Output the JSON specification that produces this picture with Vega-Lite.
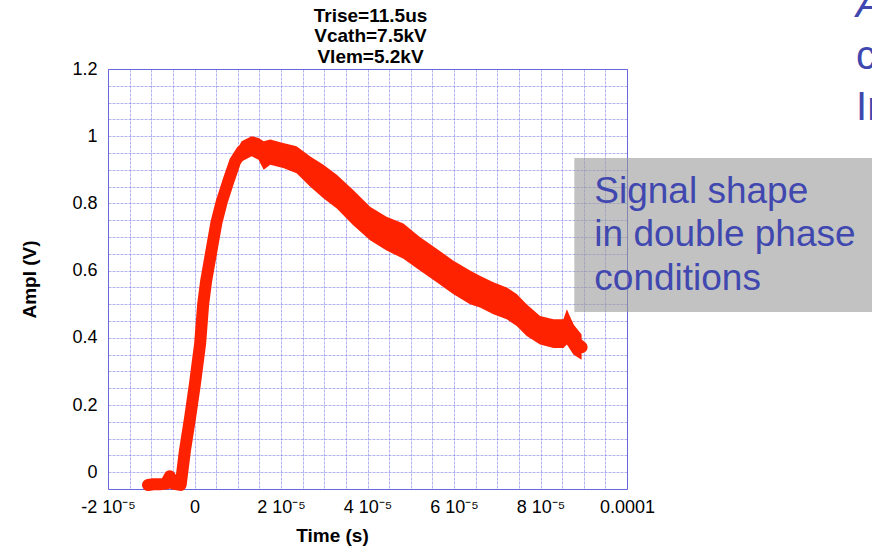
{
  "$schema": "https://vega.github.io/schema/vega-lite/v6.json",
  "width": 519,
  "height": 420,
  "autosize": {"type": "none"},
  "padding": {"left": 108, "top": 69, "right": 245, "bottom": 60},
  "background": "white",
  "config": {
    "view": {"stroke": "#6868d8", "strokeWidth": 1},
    "axis": {
      "grid": true,
      "gridColor": "#6a6ae6",
      "gridOpacity": 0.5,
      "gridDash": [3, 1],
      "gridWidth": 1,
      "domain": false,
      "ticks": false,
      "tickSize": 0,
      "labelFont": "Liberation Sans",
      "labelFontSize": 18,
      "labelColor": "black",
      "labelOverlap": false,
      "labelFlush": false,
      "titleFont": "Liberation Sans",
      "titleFontSize": 19,
      "titleFontWeight": "bold",
      "titleColor": "black"
    }
  },
  "datasets": {
    "signal": [
      {"t": -1.075e-5, "v": -0.038},
      {"t": -9.5e-6, "v": -0.036},
      {"t": -8.0e-6, "v": -0.036},
      {"t": -6.6e-6, "v": -0.034},
      {"t": -5.7e-6, "v": -0.012},
      {"t": -5.0e-6, "v": -0.034},
      {"t": -4.0e-6, "v": -0.036},
      {"t": -3.2e-6, "v": -0.038},
      {"t": -2.2e-6, "v": 0.065},
      {"t": -1.0e-6, "v": 0.164},
      {"t": 1e-7, "v": 0.263},
      {"t": 1.3e-6, "v": 0.382},
      {"t": 2.0e-6, "v": 0.5},
      {"t": 2.7e-6, "v": 0.57},
      {"t": 4.0e-6, "v": 0.665},
      {"t": 5.1e-6, "v": 0.745},
      {"t": 6.3e-6, "v": 0.805},
      {"t": 7.8e-6, "v": 0.865},
      {"t": 9.4e-6, "v": 0.925},
      {"t": 1.09e-5, "v": 0.955},
      {"t": 1.32e-5, "v": 0.975},
      {"t": 1.48e-5, "v": 0.965},
      {"t": 1.6e-5, "v": 0.945},
      {"t": 1.75e-5, "v": 0.955},
      {"t": 2.05e-5, "v": 0.945},
      {"t": 2.36e-5, "v": 0.93},
      {"t": 2.67e-5, "v": 0.897},
      {"t": 2.98e-5, "v": 0.867},
      {"t": 3.29e-5, "v": 0.837},
      {"t": 3.67e-5, "v": 0.788},
      {"t": 4.06e-5, "v": 0.739},
      {"t": 4.44e-5, "v": 0.709},
      {"t": 4.83e-5, "v": 0.689},
      {"t": 5.21e-5, "v": 0.65},
      {"t": 5.6e-5, "v": 0.614},
      {"t": 5.98e-5, "v": 0.58},
      {"t": 6.37e-5, "v": 0.55},
      {"t": 6.6e-5, "v": 0.54},
      {"t": 6.91e-5, "v": 0.516},
      {"t": 7.22e-5, "v": 0.501},
      {"t": 7.45e-5, "v": 0.481},
      {"t": 7.68e-5, "v": 0.451},
      {"t": 7.99e-5, "v": 0.422},
      {"t": 8.3e-5, "v": 0.412},
      {"t": 8.53e-5, "v": 0.412},
      {"t": 8.61e-5, "v": 0.44},
      {"t": 8.76e-5, "v": 0.392},
      {"t": 8.95e-5, "v": 0.372}
    ],
    "band": [
      {"t": 5.1e-6, "v": 0.73, "v2": 0.76},
      {"t": 6.3e-6, "v": 0.78, "v2": 0.83},
      {"t": 7.8e-6, "v": 0.84, "v2": 0.89},
      {"t": 9.4e-6, "v": 0.9, "v2": 0.95},
      {"t": 1.09e-5, "v": 0.925, "v2": 0.985},
      {"t": 1.32e-5, "v": 0.94, "v2": 1.0},
      {"t": 1.48e-5, "v": 0.93, "v2": 0.995},
      {"t": 1.6e-5, "v": 0.9, "v2": 0.985},
      {"t": 1.75e-5, "v": 0.915, "v2": 0.99},
      {"t": 2.05e-5, "v": 0.905, "v2": 0.98},
      {"t": 2.36e-5, "v": 0.89, "v2": 0.97},
      {"t": 2.67e-5, "v": 0.85, "v2": 0.94},
      {"t": 2.98e-5, "v": 0.815, "v2": 0.915},
      {"t": 3.29e-5, "v": 0.785, "v2": 0.885},
      {"t": 3.67e-5, "v": 0.735, "v2": 0.84},
      {"t": 4.06e-5, "v": 0.69, "v2": 0.79},
      {"t": 4.44e-5, "v": 0.66, "v2": 0.76},
      {"t": 4.83e-5, "v": 0.635, "v2": 0.74},
      {"t": 5.21e-5, "v": 0.6, "v2": 0.7},
      {"t": 5.6e-5, "v": 0.565, "v2": 0.665},
      {"t": 5.98e-5, "v": 0.53, "v2": 0.63},
      {"t": 6.37e-5, "v": 0.5, "v2": 0.6},
      {"t": 6.6e-5, "v": 0.49, "v2": 0.585},
      {"t": 6.91e-5, "v": 0.47, "v2": 0.565},
      {"t": 7.22e-5, "v": 0.455, "v2": 0.55},
      {"t": 7.45e-5, "v": 0.435, "v2": 0.53},
      {"t": 7.68e-5, "v": 0.405, "v2": 0.5},
      {"t": 7.99e-5, "v": 0.38, "v2": 0.465},
      {"t": 8.3e-5, "v": 0.37, "v2": 0.455},
      {"t": 8.53e-5, "v": 0.37, "v2": 0.455},
      {"t": 8.61e-5, "v": 0.38, "v2": 0.485},
      {"t": 8.76e-5, "v": 0.35, "v2": 0.44},
      {"t": 8.95e-5, "v": 0.335, "v2": 0.41}
    ]
  },
  "layer": [
    {
      "data": {"name": "signal"},
      "mark": {"type": "line", "color": "#ff2200", "strokeWidth": 12, "strokeCap": "round", "strokeJoin": "round"},
      "encoding": {
        "x": {
          "field": "t", "type": "quantitative", "title": "Time (s)",
          "scale": {"domain": [-0.00002, 0.0001], "nice": false, "zero": false},
          "axis": {
            "values": [-0.00002, -0.000015, -0.00001, -0.000005, 0, 0.000005, 0.00001, 0.000015, 0.00002, 0.000025, 0.00003, 0.000035, 0.00004, 0.000045, 0.00005, 0.000055, 0.00006, 0.000065, 0.00007, 0.000075, 0.00008, 0.000085, 0.00009, 0.000095, 0.0001],
            "labelExpr": "abs(datum.value - 0.0001) < 1e-10 ? '0.0001' : abs(datum.value) < 1e-10 ? '0' : abs(datum.value/0.00002 - round(datum.value/0.00002)) < 1e-6 ? round(datum.value/0.00001) + ' 10⁻⁵' : ''",
            "labelPadding": 9,
            "titlePadding": 10,
            "titleX": 224,
            "titleAlign": "center"
          }
        },
        "y": {
          "field": "v", "type": "quantitative", "title": "Ampl (V)",
          "scale": {"domain": [-0.05, 1.2], "nice": false, "zero": false},
          "axis": {
            "values": [-0.05, 0, 0.05, 0.1, 0.15, 0.2, 0.25, 0.3, 0.35, 0.4, 0.45, 0.5, 0.55, 0.6, 0.65, 0.7, 0.75, 0.8, 0.85, 0.9, 0.95, 1, 1.05, 1.1, 1.15, 1.2],
            "labelExpr": "abs(datum.value*5 - round(datum.value*5)) < 1e-6 ? '' + round(datum.value*10)/10 : ''",
            "labelPadding": 11,
            "titlePadding": 32
          }
        }
      }
    },
    {
      "data": {"name": "band"},
      "mark": {"type": "area", "color": "#ff2200", "opacity": 1},
      "encoding": {
        "x": {
          "field": "t", "type": "quantitative", "title": "Time (s)",
          "scale": {"domain": [-0.00002, 0.0001], "nice": false, "zero": false},
          "axis": {
            "values": [-0.00002, -0.000015, -0.00001, -0.000005, 0, 0.000005, 0.00001, 0.000015, 0.00002, 0.000025, 0.00003, 0.000035, 0.00004, 0.000045, 0.00005, 0.000055, 0.00006, 0.000065, 0.00007, 0.000075, 0.00008, 0.000085, 0.00009, 0.000095, 0.0001],
            "labelExpr": "abs(datum.value - 0.0001) < 1e-10 ? '0.0001' : abs(datum.value) < 1e-10 ? '0' : abs(datum.value/0.00002 - round(datum.value/0.00002)) < 1e-6 ? round(datum.value/0.00001) + ' 10⁻⁵' : ''",
            "labelPadding": 9,
            "titlePadding": 10,
            "titleX": 224,
            "titleAlign": "center"
          }
        },
        "y": {
          "field": "v", "type": "quantitative", "title": "Ampl (V)",
          "scale": {"domain": [-0.05, 1.2], "nice": false, "zero": false},
          "axis": {
            "values": [-0.05, 0, 0.05, 0.1, 0.15, 0.2, 0.25, 0.3, 0.35, 0.4, 0.45, 0.5, 0.55, 0.6, 0.65, 0.7, 0.75, 0.8, 0.85, 0.9, 0.95, 1, 1.05, 1.1, 1.15, 1.2],
            "labelExpr": "abs(datum.value*5 - round(datum.value*5)) < 1e-6 ? '' + round(datum.value*10)/10 : ''",
            "labelPadding": 11,
            "titlePadding": 32
          }
        },
        "y2": {"field": "v2"}
      }
    },
    {
      "data": {"values": [{}]},
      "mark": {"type": "rect", "color": "#9a9a9a", "opacity": 0.6},
      "encoding": {
        "x": {
          "datum": 0.00008782, "type": "quantitative", "title": "Time (s)",
          "scale": {"domain": [-0.00002, 0.0001], "nice": false, "zero": false},
          "axis": {
            "values": [-0.00002, -0.000015, -0.00001, -0.000005, 0, 0.000005, 0.00001, 0.000015, 0.00002, 0.000025, 0.00003, 0.000035, 0.00004, 0.000045, 0.00005, 0.000055, 0.00006, 0.000065, 0.00007, 0.000075, 0.00008, 0.000085, 0.00009, 0.000095, 0.0001],
            "labelExpr": "abs(datum.value - 0.0001) < 1e-10 ? '0.0001' : abs(datum.value) < 1e-10 ? '0' : abs(datum.value/0.00002 - round(datum.value/0.00002)) < 1e-6 ? round(datum.value/0.00001) + ' 10⁻⁵' : ''",
            "labelPadding": 9,
            "titlePadding": 10,
            "titleX": 224,
            "titleAlign": "center"
          }
        },
        "x2": {"datum": 0.00016},
        "y": {
          "datum": 0.9351, "type": "quantitative", "title": "Ampl (V)",
          "scale": {"domain": [-0.05, 1.2], "nice": false, "zero": false},
          "axis": {
            "values": [-0.05, 0, 0.05, 0.1, 0.15, 0.2, 0.25, 0.3, 0.35, 0.4, 0.45, 0.5, 0.55, 0.6, 0.65, 0.7, 0.75, 0.8, 0.85, 0.9, 0.95, 1, 1.05, 1.1, 1.15, 1.2],
            "labelExpr": "abs(datum.value*5 - round(datum.value*5)) < 1e-6 ? '' + round(datum.value*10)/10 : ''",
            "labelPadding": 11,
            "titlePadding": 32
          }
        },
        "y2": {"datum": 0.4768}
      }
    },
    {
      "data": {"values": [{}]},
      "mark": {"type": "text", "text": ["Signal shape", "in double phase", "conditions"], "font": "Liberation Sans", "fontSize": 37, "lineHeight": 43.5, "color": "#4048b0", "align": "left", "baseline": "alphabetic"},
      "encoding": {
        "x": {
          "datum": 0.00009244, "type": "quantitative", "title": "Time (s)",
          "scale": {"domain": [-0.00002, 0.0001], "nice": false, "zero": false},
          "axis": {
            "values": [-0.00002, -0.000015, -0.00001, -0.000005, 0, 0.000005, 0.00001, 0.000015, 0.00002, 0.000025, 0.00003, 0.000035, 0.00004, 0.000045, 0.00005, 0.000055, 0.00006, 0.000065, 0.00007, 0.000075, 0.00008, 0.000085, 0.00009, 0.000095, 0.0001],
            "labelExpr": "abs(datum.value - 0.0001) < 1e-10 ? '0.0001' : abs(datum.value) < 1e-10 ? '0' : abs(datum.value/0.00002 - round(datum.value/0.00002)) < 1e-6 ? round(datum.value/0.00001) + ' 10⁻⁵' : ''",
            "labelPadding": 9,
            "titlePadding": 10,
            "titleX": 224,
            "titleAlign": "center"
          }
        },
        "y": {
          "datum": 0.8012, "type": "quantitative", "title": "Ampl (V)",
          "scale": {"domain": [-0.05, 1.2], "nice": false, "zero": false},
          "axis": {
            "values": [-0.05, 0, 0.05, 0.1, 0.15, 0.2, 0.25, 0.3, 0.35, 0.4, 0.45, 0.5, 0.55, 0.6, 0.65, 0.7, 0.75, 0.8, 0.85, 0.9, 0.95, 1, 1.05, 1.1, 1.15, 1.2],
            "labelExpr": "abs(datum.value*5 - round(datum.value*5)) < 1e-6 ? '' + round(datum.value*10)/10 : ''",
            "labelPadding": 11,
            "titlePadding": 32
          }
        }
      }
    },
    {
      "data": {"values": [{}]},
      "mark": {"type": "text", "text": ["Trise=11.5us", "Vcath=7.5kV", "Vlem=5.2kV"], "font": "Liberation Sans", "fontSize": 19, "fontWeight": "bold", "lineHeight": 20.5, "color": "black", "align": "center", "baseline": "alphabetic"},
      "encoding": {
        "x": {
          "datum": 0.0000407, "type": "quantitative", "title": "Time (s)",
          "scale": {"domain": [-0.00002, 0.0001], "nice": false, "zero": false},
          "axis": {
            "values": [-0.00002, -0.000015, -0.00001, -0.000005, 0, 0.000005, 0.00001, 0.000015, 0.00002, 0.000025, 0.00003, 0.000035, 0.00004, 0.000045, 0.00005, 0.000055, 0.00006, 0.000065, 0.00007, 0.000075, 0.00008, 0.000085, 0.00009, 0.000095, 0.0001],
            "labelExpr": "abs(datum.value - 0.0001) < 1e-10 ? '0.0001' : abs(datum.value) < 1e-10 ? '0' : abs(datum.value/0.00002 - round(datum.value/0.00002)) < 1e-6 ? round(datum.value/0.00001) + ' 10⁻⁵' : ''",
            "labelPadding": 9,
            "titlePadding": 10,
            "titleX": 224,
            "titleAlign": "center"
          }
        },
        "y": {
          "datum": 1.3408, "type": "quantitative", "title": "Ampl (V)",
          "scale": {"domain": [-0.05, 1.2], "nice": false, "zero": false},
          "axis": {
            "values": [-0.05, 0, 0.05, 0.1, 0.15, 0.2, 0.25, 0.3, 0.35, 0.4, 0.45, 0.5, 0.55, 0.6, 0.65, 0.7, 0.75, 0.8, 0.85, 0.9, 0.95, 1, 1.05, 1.1, 1.15, 1.2],
            "labelExpr": "abs(datum.value*5 - round(datum.value*5)) < 1e-6 ? '' + round(datum.value*10)/10 : ''",
            "labelPadding": 11,
            "titlePadding": 32
          }
        }
      }
    },
    {
      "data": {"values": [{}]},
      "mark": {"type": "text", "text": "A", "font": "Liberation Sans", "fontSize": 40, "fontStyle": "italic", "color": "#4048b0", "align": "left", "baseline": "alphabetic"},
      "encoding": {
        "x": {
          "datum": 0.00015297, "type": "quantitative", "title": "Time (s)",
          "scale": {"domain": [-0.00002, 0.0001], "nice": false, "zero": false},
          "axis": {
            "values": [-0.00002, -0.000015, -0.00001, -0.000005, 0, 0.000005, 0.00001, 0.000015, 0.00002, 0.000025, 0.00003, 0.000035, 0.00004, 0.000045, 0.00005, 0.000055, 0.00006, 0.000065, 0.00007, 0.000075, 0.00008, 0.000085, 0.00009, 0.000095, 0.0001],
            "labelExpr": "abs(datum.value - 0.0001) < 1e-10 ? '0.0001' : abs(datum.value) < 1e-10 ? '0' : abs(datum.value/0.00002 - round(datum.value/0.00002)) < 1e-6 ? round(datum.value/0.00001) + ' 10⁻⁵' : ''",
            "labelPadding": 9,
            "titlePadding": 10,
            "titleX": 224,
            "titleAlign": "center"
          }
        },
        "y": {
          "datum": 1.3557, "type": "quantitative", "title": "Ampl (V)",
          "scale": {"domain": [-0.05, 1.2], "nice": false, "zero": false},
          "axis": {
            "values": [-0.05, 0, 0.05, 0.1, 0.15, 0.2, 0.25, 0.3, 0.35, 0.4, 0.45, 0.5, 0.55, 0.6, 0.65, 0.7, 0.75, 0.8, 0.85, 0.9, 0.95, 1, 1.05, 1.1, 1.15, 1.2],
            "labelExpr": "abs(datum.value*5 - round(datum.value*5)) < 1e-6 ? '' + round(datum.value*10)/10 : ''",
            "labelPadding": 11,
            "titlePadding": 32
          }
        }
      }
    },
    {
      "data": {"values": [{}]},
      "mark": {"type": "text", "text": ["c", "In"], "font": "Liberation Sans", "fontSize": 40, "lineHeight": 50.5, "color": "#4048b0", "align": "left", "baseline": "alphabetic"},
      "encoding": {
        "x": {
          "datum": 0.00015297, "type": "quantitative", "title": "Time (s)",
          "scale": {"domain": [-0.00002, 0.0001], "nice": false, "zero": false},
          "axis": {
            "values": [-0.00002, -0.000015, -0.00001, -0.000005, 0, 0.000005, 0.00001, 0.000015, 0.00002, 0.000025, 0.00003, 0.000035, 0.00004, 0.000045, 0.00005, 0.000055, 0.00006, 0.000065, 0.00007, 0.000075, 0.00008, 0.000085, 0.00009, 0.000095, 0.0001],
            "labelExpr": "abs(datum.value - 0.0001) < 1e-10 ? '0.0001' : abs(datum.value) < 1e-10 ? '0' : abs(datum.value/0.00002 - round(datum.value/0.00002)) < 1e-6 ? round(datum.value/0.00001) + ' 10⁻⁵' : ''",
            "labelPadding": 9,
            "titlePadding": 10,
            "titleX": 224,
            "titleAlign": "center"
          }
        },
        "y": {
          "datum": 1.1991, "type": "quantitative", "title": "Ampl (V)",
          "scale": {"domain": [-0.05, 1.2], "nice": false, "zero": false},
          "axis": {
            "values": [-0.05, 0, 0.05, 0.1, 0.15, 0.2, 0.25, 0.3, 0.35, 0.4, 0.45, 0.5, 0.55, 0.6, 0.65, 0.7, 0.75, 0.8, 0.85, 0.9, 0.95, 1, 1.05, 1.1, 1.15, 1.2],
            "labelExpr": "abs(datum.value*5 - round(datum.value*5)) < 1e-6 ? '' + round(datum.value*10)/10 : ''",
            "labelPadding": 11,
            "titlePadding": 32
          }
        }
      }
    }
  ]
}
